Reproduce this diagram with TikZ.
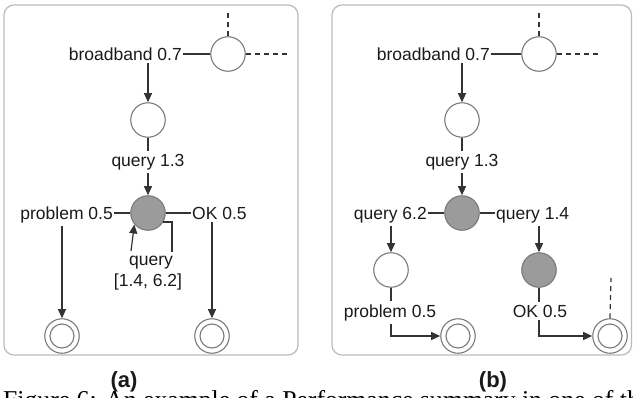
\documentclass[tikz,border=0pt]{standalone}
\usepackage{fontspec}
\setmainfont{Liberation Sans}
\newfontfamily\capfont{Liberation Serif}
\usetikzlibrary{arrows.meta,calc}
\definecolor{txt}{HTML}{1A1A1A}
\definecolor{lc}{HTML}{333333}
\definecolor{circgray}{HTML}{7A7A7A}
\definecolor{stategray}{HTML}{9B9B9B}
\definecolor{panelgray}{HTML}{BBBBBB}
\begin{document}
\begin{tikzpicture}[x=1pt,y=-1pt,
  st/.style={circle,draw=circgray,line width=1.1pt,minimum size=34.5pt,inner sep=0pt,fill=white},
  gst/.style={st,fill=stategray},
  sti/.style={circle,draw=circgray,line width=1.1pt,minimum size=24pt,inner sep=0pt},
  lbl/.style={font=\fontsize{17.5}{21}\selectfont, text=txt, inner xsep=1pt, inner ysep=3pt},
  conn/.style={draw=lc, line width=1.2pt},
  arr/.style={conn, -{Triangle[length=9pt,width=8pt]}},
  dsh/.style={conn, dash pattern=on 5pt off 4pt},
  panel/.style={draw=panelgray, line width=1.2pt, rounded corners=10pt},
  sub/.style={font=\fontsize{22}{26}\selectfont\bfseries, text=txt, inner sep=0pt},
  capw/.style={font=\capfont\fontsize{25.7}{30}\selectfont, text=black, inner sep=0pt, anchor=base west}
]
\useasboundingbox (0,0) rectangle (633,397);
% panels
\draw[panel] (4,5) rectangle (298,355);
\draw[panel] (332,5) rectangle (631.5,355);

% ---------- panel (a)
\node[st] (a0) at (228,54) {};
\node[lbl, anchor=base east] (abb) at (183,60) {broadband 0.7};
\node[st] (a1) at (148,120) {};
\node[lbl, anchor=base] (aq) at (148,166) {query 1.3};
\node[gst] (a2) at (148,213) {};
\node[lbl, anchor=base east] (apr) at (114,219) {problem 0.5};
\node[lbl, anchor=base west] (aok) at (191,219) {OK 0.5};
\node[lbl, anchor=base] (alq) at (151,265) {query};
\node[lbl, anchor=base] (alr) at (148,286) {[1.4, 6.2]};
\node[st] (af1) at (62,336) {}; \node[sti] (af1i) at (af1) {};
\node[st] (af2) at (212,336) {}; \node[sti] (af2i) at (af2) {};
\coordinate (a0up) at (228,10);
\coordinate (a0rt) at (287,54);
\coordinate (alR) at (172,252);
\coordinate (alL) at (131,251);

\draw[conn] (a0.west) -- (a0.west -| abb.east);
\draw[dsh] (a0.north) -- (a0up);
\draw[dsh] (a0.east) -- (a0rt);
\draw[arr] (abb.south -| a1) -- (a1.north);
\draw[conn] (a1.south) -- (aq.north);
\draw[arr] (aq.south) -- (a2.north);
\draw[conn] (a2.west) -- (a2.west -| apr.east);
\draw[conn] (a2.east) -- (a2.east -| aok.west);
\draw[arr] (apr.south -| af1) -- (af1.north);
\draw[arr] (aok.south -| af2) -- (af2.north);
\draw[conn] (a2.-30) -| (alR);
\draw[arr] (alL) -- (a2.-140);

% ---------- panel (b)
\node[st] (b0) at (539,54) {};
\node[lbl, anchor=base east] (bbb) at (491,60) {broadband 0.7};
\node[st] (b1) at (462,120) {};
\node[lbl, anchor=base] (bq) at (462,166) {query 1.3};
\node[gst] (b2) at (462,213) {};
\node[lbl, anchor=base east] (bq62) at (428,219) {query 6.2};
\node[lbl, anchor=base west] (bq14) at (495,219) {query 1.4};
\node[st] (b3) at (391,270) {};
\node[gst] (b4) at (539,270) {};
\node[lbl, anchor=base] (bpr) at (390,317) {problem 0.5};
\node[lbl, anchor=base] (bok) at (540,317) {OK 0.5};
\node[st] (bf1) at (458,336) {}; \node[sti] (bf1i) at (bf1) {};
\node[st] (bf2) at (610,336) {}; \node[sti] (bf2i) at (bf2) {};
\coordinate (b0up) at (539,10);
\coordinate (b0rt) at (598,54);
\coordinate (bf2up) at (611,278);

\draw[conn] (b0.west) -- (b0.west -| bbb.east);
\draw[dsh] (b0.north) -- (b0up);
\draw[dsh] (b0.east) -- (b0rt);
\draw[arr] (bbb.south -| b1) -- (b1.north);
\draw[conn] (b1.south) -- (bq.north);
\draw[arr] (bq.south) -- (b2.north);
\draw[conn] (b2.west) -- (b2.west -| bq62.east);
\draw[conn] (b2.east) -- (b2.east -| bq14.west);
\draw[arr] (bq62.south -| b3) -- (b3.north);
\draw[arr] (bq14.south -| b4) -- (b4.north);
\draw[conn] (b3.south) -- (b3.south |- bpr.north);
\draw[arr] (bpr.south -| b3) |- (bf1.west);
\draw[conn] (b4.south) -- (b4.south |- bok.north);
\draw[arr] (bok.south -| b4) |- (bf2.west);
\draw[dsh] (bf2.north) -- (bf2up);

% sub-captions
\node[sub, anchor=base] (capa) at (124,387) {(a)};
\node[sub, anchor=base] (capb) at (493,387) {(b)};

% cut-off figure caption (only the tops of the letters show)
\begin{scope}
\clip (0,0) rectangle (633,397);
\node[capw] (figcap) at (3,408.8) {Figure 6: An example of a Performance summary in one of the};
\end{scope}
\end{tikzpicture}
\end{document}
